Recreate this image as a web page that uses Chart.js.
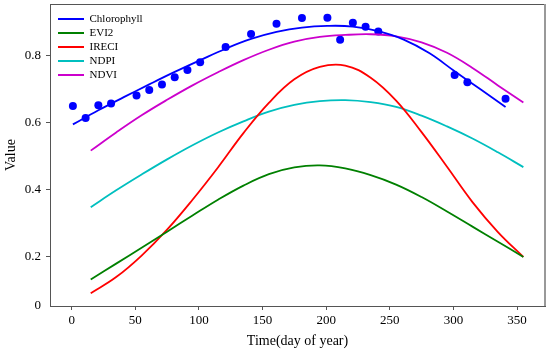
<!DOCTYPE html>
<html>
<head>
<meta charset="utf-8">
<script src="https://cdn.jsdelivr.net/npm/chart.js@4/dist/chart.umd.min.js"></script>
<style>
  html, body { margin: 0; padding: 0; background: #fff; }
  canvas { display: block; }
</style>
</head>
<body>
<canvas id="chart" width="550" height="354"></canvas>
<script>
// observed chlorophyll (dots)
var obsDays = [1, 11, 21, 31, 51, 61, 71, 81, 91, 101, 121, 141, 161, 181, 201, 211, 221, 231, 241, 301, 311, 341];
var obsChl = [0.649, 0.613, 0.651, 0.656, 0.680, 0.696, 0.713, 0.734, 0.756, 0.779, 0.824, 0.863, 0.893, 0.910, 0.911, 0.846, 0.896, 0.884, 0.870, 0.741, 0.719, 0.670];

// fitted chlorophyll curve
var fitDays = [1, 21, 41, 61, 81, 101, 121, 141, 161, 181, 201, 221, 241, 261, 281, 301, 321, 341];
var fitChl = [0.594, 0.636, 0.675, 0.713, 0.750, 0.785, 0.819, 0.848, 0.869, 0.882, 0.887, 0.885, 0.871, 0.846, 0.806, 0.752, 0.699, 0.646];

// vegetation indices
var idxDays = [15, 35, 55, 75, 95, 115, 135, 155, 175, 195, 215, 235, 255, 275, 295, 315, 335, 355];
var evi2  = [0.133, 0.180, 0.227, 0.275, 0.323, 0.370, 0.412, 0.446, 0.466, 0.472, 0.463, 0.443, 0.415, 0.378, 0.335, 0.290, 0.245, 0.200];
var ireci = [0.092, 0.140, 0.204, 0.281, 0.370, 0.466, 0.568, 0.658, 0.728, 0.765, 0.769, 0.733, 0.665, 0.571, 0.468, 0.363, 0.274, 0.200];
var ndpi  = [0.348, 0.398, 0.445, 0.490, 0.532, 0.570, 0.603, 0.632, 0.652, 0.663, 0.666, 0.660, 0.646, 0.620, 0.588, 0.552, 0.511, 0.467];
var ndvi  = [0.516, 0.570, 0.621, 0.667, 0.710, 0.749, 0.785, 0.816, 0.840, 0.854, 0.860, 0.862, 0.856, 0.838, 0.807, 0.762, 0.710, 0.659];

var xTicks = [0, 50, 100, 150, 200, 250, 300, 350];
var yTicks = [0.054, 0.2, 0.4, 0.6, 0.8];

var serif = "'Liberation Serif', 'Times New Roman', serif";
var axisColor = '#555';

function pts(xs, ys){
    var out = [];
    for(var i=0; i<xs.length; i++){
        out.push({x: xs[i], y: ys[i]});
    }
    return out;
}

function curve(label, xs, ys, color){
    return {
        label: label,
        data: pts(xs, ys),
        showLine: true,
        borderColor: color,
        backgroundColor: color,
        borderWidth: 1.8,
        pointRadius: 0,
        fill: false,
        tension: 0.4
    };
}

function noPad(s){
    s.paddingTop = 0;
    s.paddingBottom = 0;
    s.paddingLeft = 0;
    s.paddingRight = 0;
}

// box round the plot + legend placed inside top left
var framePlugin = {
    id: 'frame',
    afterLayout: function(chart){
        var lg = chart.legend;
        if(!lg) return;
        var dx = 55 - lg.left, dy = 10.5 - lg.top;
        lg.left += dx; lg.right += dx;
        lg.top += dy; lg.bottom += dy;
    },
    afterDraw: function(chart){
        var a = chart.chartArea, ctx = chart.ctx;
        ctx.save();
        ctx.strokeStyle = axisColor;
        ctx.lineWidth = 1;
        ctx.beginPath();
        ctx.moveTo(a.left, a.top + 0.5);
        ctx.lineTo(a.right, a.top + 0.5);
        ctx.stroke();
        ctx.strokeStyle = '#999';
        ctx.lineWidth = 2;
        ctx.beginPath();
        ctx.moveTo(a.right, a.top);
        ctx.lineTo(a.right, a.bottom);
        ctx.stroke();
        ctx.restore();
    }
};

var ctx = document.getElementById('chart').getContext('2d');
var myChart = new Chart(ctx, {
    type: 'scatter',
    data: {
        datasets: [
            curve('Chlorophyll', fitDays, fitChl, '#0000ff'),
            curve('EVI2', idxDays, evi2, '#008000'),
            curve('IRECI', idxDays, ireci, '#ff0000'),
            curve('NDPI', idxDays, ndpi, '#00bfbf'),
            curve('NDVI', idxDays, ndvi, '#cc00cc'),
            {
                label: 'Chlorophyll obs',
                data: pts(obsDays, obsChl),
                showLine: false,
                pointRadius: 4,
                pointBorderWidth: 0,
                backgroundColor: '#0000ff',
                borderColor: '#0000ff'
            }
        ]
    },
    options: {
        responsive: false,
        animation: false,
        layout: { padding: { top: 4, right: 5, left: 0, bottom: 0 } },
        plugins: {
            tooltip: { enabled: false },
            legend: {
                position: 'chartArea',
                align: 'start',
                labels: {
                    usePointStyle: true,
                    pointStyle: 'line',
                    pointStyleWidth: 26,
                    boxWidth: 26,
                    boxHeight: 11,
                    padding: 3,
                    color: '#000',
                    font: { family: serif, size: 11 },
                    filter: function(item){ return item.datasetIndex < 5; }
                }
            }
        },
        scales: {
            x: {
                type: 'linear',
                min: -17,
                max: 372,
                afterBuildTicks: function(s){
                    s.ticks = xTicks.map(function(v){ return {value: v}; });
                },
                afterFit: function(s){ s.height = 48; noPad(s); },
                grid: { drawOnChartArea: false, drawTicks: true, tickLength: 4, color: axisColor },
                border: { display: true, color: axisColor, width: 1 },
                ticks: {
                    padding: 3,
                    color: '#000',
                    font: { family: serif, size: 13 },
                    callback: function(v){ return v; }
                },
                title: {
                    display: true,
                    text: 'Time(day of year)',
                    color: '#000',
                    font: { family: serif, size: 14 },
                    padding: { top: 0, bottom: 4 }
                }
            },
            y: {
                min: 0.054,
                max: 0.952,
                afterBuildTicks: function(s){
                    s.ticks = yTicks.map(function(v){ return {value: v}; });
                },
                afterFit: function(s){ s.width = 50; noPad(s); },
                grid: {
                    drawOnChartArea: false,
                    drawTicks: true,
                    tickLength: 4,
                    color: function(c){ return (c.tick && c.tick.value < 0.1) ? 'rgba(0,0,0,0)' : axisColor; }
                },
                border: { display: true, color: axisColor, width: 1 },
                ticks: {
                    padding: 5,
                    color: '#000',
                    font: { family: serif, size: 13 },
                    callback: function(v){ return v < 0.1 ? '0' : v.toFixed(1); }
                },
                title: {
                    display: true,
                    text: 'Value',
                    color: '#000',
                    font: { family: serif, size: 14 },
                    padding: { top: 3, bottom: 0 }
                }
            }
        }
    },
    plugins: [framePlugin]
});
</script>
</body>
</html>
